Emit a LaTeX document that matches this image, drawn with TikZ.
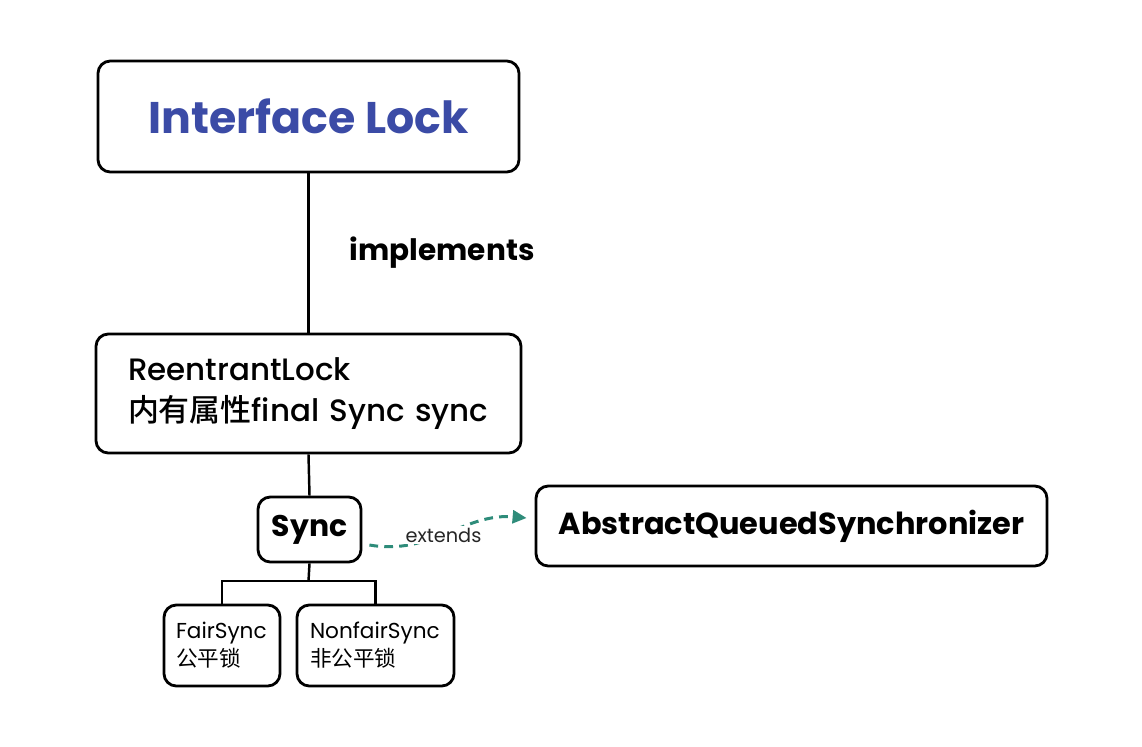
\documentclass[tikz,border=0pt]{standalone}
\usepackage{fontspec}
\setmainfont{Poppins}
\newfontfamily\medfont{Poppins Medium}
\newfontfamily\cjk{Noto Sans CJK SC}
\newfontfamily\cjkmed{Noto Sans CJK SC Medium}
\usepackage{tikz}
\usetikzlibrary{arrows.meta, positioning, calc}
\definecolor{myblue}{RGB}{59,75,166}
\definecolor{myteal}{RGB}{46,140,122}
\tikzstyle{box} = [rectangle, rounded corners=7pt, draw=black, line width=1.6pt, fill=white]
\tikzstyle{link} = [line width=1.4pt]
\tikzstyle{extendline} = [myteal, line width=1.7pt, dash pattern=on 5pt off 3.5pt, -{Triangle[length=2.8mm,width=2.6mm]}]

\begin{document}
\begin{tikzpicture}[>=Stealth]
\useasboundingbox (0,0) rectangle (22.84,-14.92);

\node[
box,
minimum width=8.42cm,
minimum height=2.22cm,
font=\bfseries\fontsize{25.2}{30}\selectfont,
text=myblue
] (lock) at (6.17,-2.33) {Interface Lock};

\node[
box,
minimum height=2.38cm,
text width=7.22cm,
inner xsep=0.64cm,
align=left,
font=\medfont\fontsize{17.6}{23.5}\selectfont
] (reentrant) at (6.17,-7.87) {ReentrantLock\\{\cjkmed 内有属性}final Sync sync};

\node[
box,
minimum width=2.06cm,
minimum height=1.3cm,
font=\bfseries\fontsize{17}{20}\selectfont
] (sync) at (6.19,-10.59) {Sync};

\node[
box,
minimum height=1.62cm,
text width=1.84cm,
inner xsep=0.24cm,
align=left,
font=\fontsize{12.3}{16}\selectfont
] (fair) at (4.44,-12.91) {FairSync\\{\cjk 公平锁}};

\node[
box,
minimum height=1.62cm,
text width=2.62cm,
inner xsep=0.26cm,
align=left,
font=\fontsize{12.3}{16}\selectfont
] (nonfair) at (7.51,-12.91) {NonfairSync\\{\cjk 非公平锁}};

\node[
box,
minimum width=10.22cm,
minimum height=1.6cm,
font=\bfseries\fontsize{17.3}{20}\selectfont
] (aqs) at (15.83,-10.52) {AbstractQueuedSynchronizer};

\coordinate (fork) at (6.17,-11.62);

% implements
\draw[line width=2.2pt] (lock.south) -- node[right=0.67cm, font=\bfseries\fontsize{16.8}{20}\selectfont] (impl) {implements} (reentrant.north);

\draw[link] (reentrant.south) -- (sync.north);
\draw[link] (sync.south) -- (fork);
\draw[link] (fork) -| (fair.north);
\draw[link] (fork) -| (nonfair.north);

% extends
\draw[extendline]
([xshift=0.14cm,yshift=-0.31cm]sync.east) to[out=-10,in=175]
node[fill=white, text=black!85, inner sep=1pt, font=\fontsize{11}{13}\selectfont, pos=0.47] (ext) {extends}
([xshift=-0.16cm,yshift=0.16cm]aqs.west);
\end{tikzpicture}
\end{document}
